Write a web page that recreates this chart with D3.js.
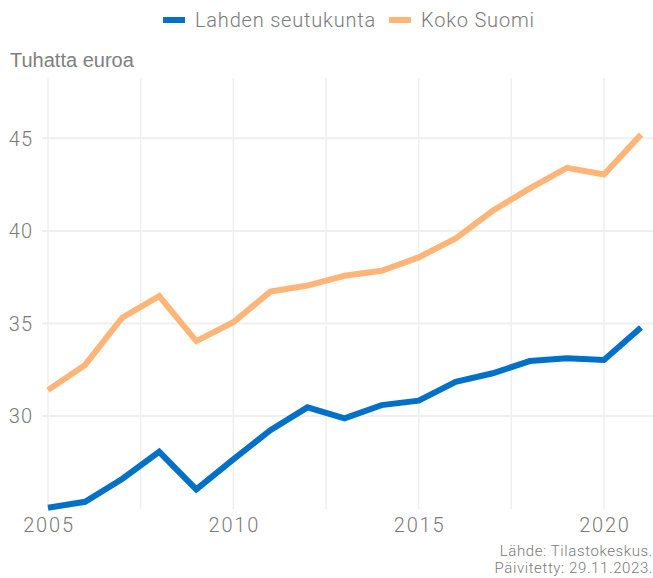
<!DOCTYPE html>
<html>
<head>
<meta charset="utf-8">
<script src="https://cdn.jsdelivr.net/npm/d3@7"></script>
<style>
  body { margin: 0; background: #fff; }
  svg { display: block; }
</style>
</head>
<body>
<svg></svg>
<script>
// Data
const years = [2005, 2006, 2007, 2008, 2009, 2010, 2011, 2012, 2013, 2014, 2015, 2016, 2017, 2018, 2019, 2020, 2021];
const lahti = [25.05, 25.37, 26.6, 28.07, 26.04, 27.66, 29.24, 30.47, 29.88, 30.59, 30.83, 31.85, 32.31, 32.97, 33.12, 33.03, 34.79];
const suomi = [31.4, 32.76, 35.31, 36.48, 34.05, 35.07, 36.72, 37.05, 37.58, 37.85, 38.57, 39.6, 41.09, 42.3, 43.41, 43.05, 45.2];
const seriesNames = ["Lahden seutukunta", "Koko Suomi"];
const colors = ["#0070c9", "#ffb578"];
const yTicks = [30, 35, 40, 45];
const xTicks = [2005, 2010, 2015, 2020];
const xGrid = [2005, 2007.5, 2010, 2012.5, 2015, 2017.5, 2020];

const width = 653;
const height = 578;
const margin = { top: 78, right: 12, bottom: 69, left: 48 };

const svg = d3.select("svg")
  .attr("width", width)
  .attr("height", height);

const xScale = d3.scaleLinear()
  .domain([2005, 2021])
  .range([margin.left, width - margin.right]);

const yScale = d3.scaleLinear()
  .domain([24.98, 48.26])
  .range([height - margin.bottom, margin.top]);

const tickFont = "Roboto, sans-serif";
const grey = "#7a7a7a";

// Grid
svg.append("g")
  .selectAll("line")
  .data(xGrid)
  .enter()
  .append("line")
  .attr("x1", d => xScale(d))
  .attr("x2", d => xScale(d))
  .attr("y1", margin.top)
  .attr("y2", height - margin.bottom)
  .attr("stroke", "#efefef")
  .attr("stroke-width", 1.5);

svg.append("g")
  .selectAll("line")
  .data(yTicks)
  .enter()
  .append("line")
  .attr("x1", 42)
  .attr("x2", width)
  .attr("y1", d => yScale(d))
  .attr("y2", d => yScale(d))
  .attr("stroke", "#efefef")
  .attr("stroke-width", 2);

// Axes labels
svg.append("g")
  .selectAll("text")
  .data(yTicks)
  .enter()
  .append("text")
  .attr("x", 33)
  .attr("y", d => yScale(d))
  .attr("dy", "0.36em")
  .attr("text-anchor", "end")
  .attr("font-family", tickFont)
  .attr("font-weight", 300)
  .attr("font-size", 20)
  .attr("letter-spacing", 1)
  .attr("fill", grey)
  .text(d => d);

svg.append("g")
  .selectAll("text")
  .data(xTicks)
  .enter()
  .append("text")
  .attr("x", d => xScale(d) + 1)
  .attr("y", 532)
  .attr("text-anchor", "middle")
  .attr("font-family", tickFont)
  .attr("font-weight", 300)
  .attr("font-size", 20)
  .attr("letter-spacing", 1.8)
  .attr("fill", grey)
  .text(d => d);

svg.append("text")
  .attr("x", 10)
  .attr("y", 67)
  .attr("font-family", "'Liberation Sans', Arial, sans-serif")
  .attr("font-size", 20)
  .attr("fill", "#808080")
  .text("Tuhatta euroa");

// Lines
const line = d3.line()
  .x((d, i) => xScale(years[i]))
  .y(d => yScale(d));

[lahti, suomi].forEach((s, i) => {
  svg.append("path")
    .datum(s)
    .attr("fill", "none")
    .attr("stroke", colors[i])
    .attr("stroke-width", 6)
    .attr("stroke-linejoin", "miter")
    .attr("d", line);
});

// Legend
const legendX = [163, 389];
seriesNames.forEach((name, i) => {
  const g = svg.append("g").attr("transform", `translate(${legendX[i]}, 20)`);
  g.append("line")
    .attr("x1", 0).attr("x2", 22)
    .attr("y1", 0).attr("y2", 0)
    .attr("stroke", colors[i])
    .attr("stroke-width", 6);
  g.append("text")
    .attr("x", 32)
    .attr("y", 0)
    .attr("dy", "0.36em")
    .attr("font-family", tickFont)
    .attr("font-weight", 300)
    .attr("font-size", 20)
    .attr("letter-spacing", 0.8)
    .attr("fill", grey)
    .text(name);
});

// Source
svg.append("text")
  .attr("x", 653)
  .attr("y", 556)
  .attr("text-anchor", "end")
  .attr("font-family", tickFont)
  .attr("font-weight", 300)
  .attr("font-size", 15)
  .attr("letter-spacing", 0.6)
  .attr("fill", grey)
  .text("Lähde: Tilastokeskus.");

svg.append("text")
  .attr("x", 653)
  .attr("y", 573)
  .attr("text-anchor", "end")
  .attr("font-family", tickFont)
  .attr("font-weight", 300)
  .attr("font-size", 15)
  .attr("letter-spacing", 0.6)
  .attr("fill", grey)
  .text("Päivitetty: 29.11.2023.");
</script>
</body>
</html>
